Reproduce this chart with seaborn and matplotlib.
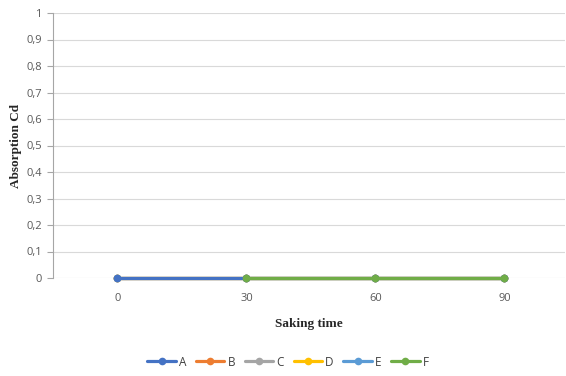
import numpy as np
import pandas as pd
import matplotlib
matplotlib.use("Agg")
import matplotlib.pyplot as plt
import seaborn as sns

# Data
times = ["0", "30", "60", "90"]
series_names = ["A", "B", "C", "D", "E", "F"]
A = [0, 0, 0, 0]
B = [0, 0, 0, 0]
C = [0, 0, 0, 0]
D = [0, 0, 0, 0]
E = [0, 0, 0, 0]
F = [np.nan, 0, 0, 0]
y_ticks = [0, 0.1, 0.2, 0.3, 0.4, 0.5, 0.6, 0.7, 0.8, 0.9, 1]
y_tick_labels = ["0", "0,1", "0,2", "0,3", "0,4", "0,5", "0,6", "0,7", "0,8", "0,9", "1"]

colors = {"A": "#4472C4", "B": "#ED7D31", "C": "#A5A5A5",
          "D": "#FFC000", "E": "#5B9BD5", "F": "#70AD47"}
values = {"A": A, "B": B, "C": C, "D": D, "E": E, "F": F}
zorders = {"A": 4, "B": 3, "C": 3, "D": 3, "E": 3, "F": 5}

sns.set_theme(style="white")
plt.rcParams["font.family"] = ["Open Sans", "DejaVu Sans"]

fig = plt.figure(figsize=(5.66, 3.76), dpi=100)
ax = fig.add_axes([53 / 566, 1 - 278 / 376, (565 - 53) / 566, (278 - 13) / 376])

pos = np.arange(len(times))
handles = {}
for name in ["B", "C", "D", "E", "A", "F"]:
    df = pd.DataFrame({"x": pos, "y": values[name]}).dropna()
    sns.lineplot(data=df, x="x", y="y", ax=ax, color=colors[name], linewidth=2.3,
                 marker="o", markersize=5.5, markeredgewidth=0, zorder=zorders[name],
                 label=name, legend=False, clip_on=False)
    handles[name] = ax.lines[-1]

ax.set_xlim(-0.5, 3.47)
ax.set_ylim(0, 1)
ax.set_xticks(pos)
ax.set_xticklabels(times)
ax.set_yticks(y_ticks)
ax.set_yticklabels(y_tick_labels)

ax.grid(axis="y", color="#D9D9D9", linewidth=0.8, zorder=0)
ax.set_axisbelow(True)
for s in ["top", "right", "bottom"]:
    ax.spines[s].set_visible(False)
ax.spines["left"].set_color("#A6A6A6")
ax.spines["left"].set_linewidth(0.8)
ax.tick_params(axis="y", which="major", length=4, width=0.8, color="#A6A6A6",
               labelsize=8, labelcolor="#595959", pad=4, left=True)
ax.tick_params(axis="x", length=0, labelsize=8, labelcolor="#595959", pad=11)

ax.set_xlabel("Saking time", fontsize=9.5, fontweight="bold",
              family="Liberation Serif", labelpad=10)
ax.set_ylabel("Absorption Cd", fontsize=9.5, fontweight="bold",
              family="Liberation Serif", labelpad=3)

leg = fig.legend([handles[n] for n in series_names], series_names,
                 loc="center", bbox_to_anchor=(288 / 566, 1 - 362 / 376),
                 ncol=6, frameon=False, fontsize=8.5, handlelength=2.4,
                 handletextpad=0.25, columnspacing=0.85)
for t in leg.get_texts():
    t.set_color("#404040")

fig.savefig("out.png", dpi=100)
